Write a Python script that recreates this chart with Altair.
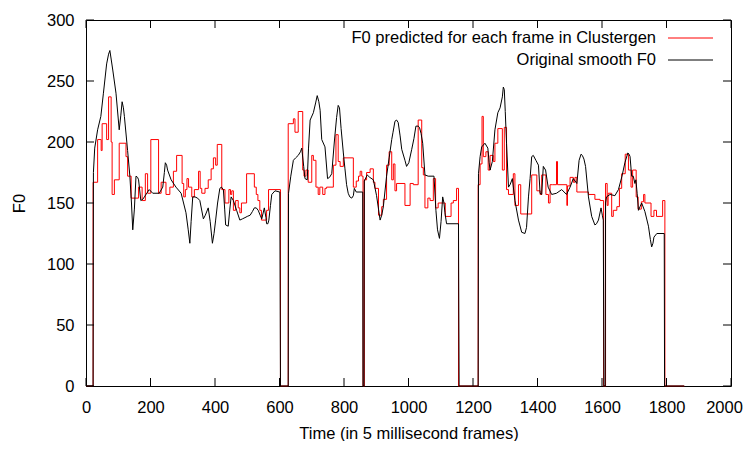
import altair as alt
import pandas as pd

# ---------------- data ----------------
black_frames = [0, 22, 23, 27, 36, 46, 54, 64, 70, 74, 78, 83, 93, 103, 108, 112, 116, 119, 129, 136, 141, 145, 150,
                155, 160, 163, 170, 176, 181, 196, 207, 227, 238, 243, 246, 250, 253, 264, 279, 295, 310, 317, 322,
                326, 331, 338, 346, 353, 364, 370, 379, 385, 392, 397, 402, 408, 415, 420, 426, 430, 433, 441, 446,
                450, 457, 467, 477, 485, 493, 500, 509, 516, 522, 528, 534, 540, 545, 553, 558, 560, 564, 567, 572,
                576, 586, 601, 603,
                627, 628, 635, 643, 650, 658, 665, 669, 675, 679, 686, 690, 695, 705, 712, 717, 722, 726, 731, 741,
                749, 755, 762, 770, 777, 782, 786, 791, 798, 803, 808, 813, 818, 824, 829, 832, 838, 858, 859,
                862, 863, 872, 880, 891, 901, 907, 912, 917, 922, 932, 940, 948, 952, 958, 963, 968, 974, 979, 989,
                994, 1001, 1010, 1017, 1023, 1030, 1034, 1039, 1044, 1051, 1061, 1079, 1085, 1090, 1096, 1101, 1106,
                1110, 1113, 1118, 1155, 1157,
                1216, 1217, 1222, 1227, 1237, 1246, 1250, 1253, 1260, 1268, 1277, 1284, 1291, 1294, 1297, 1300, 1304,
                1310, 1315, 1322, 1330, 1341, 1351, 1361, 1366, 1372, 1377, 1382, 1387, 1395, 1403, 1408, 1413, 1418,
                1425, 1433, 1444, 1459, 1475, 1490, 1501, 1511, 1522, 1529, 1535, 1539, 1544, 1549, 1558, 1568, 1578,
                1583, 1589, 1597, 1601, 1604, 1606,
                1610, 1611, 1614, 1625, 1640, 1651, 1662, 1671, 1680, 1684, 1687, 1692, 1697, 1702, 1705, 1709, 1713,
                1718, 1723, 1733, 1744, 1750, 1754, 1758, 1761, 1770, 1793, 1794, 1855]
black_values = [0, 0, 175, 195, 210, 221, 240, 264, 272, 275, 268, 259, 240, 210, 222, 233, 228, 221, 193, 172, 150, 128, 145,
                172, 171, 169, 152, 153, 155, 161, 158, 158, 163, 175, 183, 181, 177, 169, 163, 158, 142, 128, 117,
                135, 155, 155, 154, 152, 137, 140, 146, 135, 117, 125, 136, 150, 162, 163, 161, 145, 132, 131, 145,
                155, 152, 144, 136, 137, 138, 139, 140, 143, 146, 146, 144, 140, 137, 146, 138, 133, 133, 136, 148,
                157, 160, 159, 0,
                0, 158, 172, 185, 187, 189, 192, 195, 180, 170, 169, 195, 218, 224, 232, 238, 233, 226, 202, 196,
                170, 171, 174, 200, 220, 230, 228, 211, 191, 178, 165, 158, 155, 154, 156, 162, 159, 159, 0,
                0, 168, 173, 171, 169, 156, 145, 136, 140, 147, 172, 187, 202, 208, 217, 218, 216, 205, 194, 185,
                180, 183, 194, 203, 213, 213, 212, 207, 199, 173, 172, 172, 144, 128, 121, 135, 155,
                150, 142, 133, 133, 0,
                0, 174, 188, 196, 199, 195, 183, 177, 184, 210, 224, 228, 237, 245, 243, 225, 199,
                163, 165, 170, 152, 136, 126, 125, 130, 155, 170, 188, 189, 185, 181, 158, 157, 180,
                177, 163, 157, 158, 161, 157, 163, 170, 166, 185, 190, 189, 186, 180, 155, 139, 132,
                133, 136, 146, 140, 136, 0,
                0, 150, 155, 157, 156, 161, 172, 183, 191, 190, 188, 172, 172, 166, 169, 158, 144,
                147, 150, 143, 131, 120, 114, 117, 122, 125, 125, 0, 0]

red_frames = [0, 22, 36, 47, 50, 64, 70, 78, 81, 88, 103, 124, 129, 140, 163, 174, 184, 191, 201, 225, 233, 248, 260,
              271, 281, 298, 303, 308, 313, 318, 328, 336, 349, 354, 359, 369, 379, 388, 395, 402, 407, 421, 431,
              443, 448, 452, 457, 464, 472, 477, 482, 498, 522, 528, 533, 539, 544, 560, 566, 603,
              627, 643, 648, 658, 672, 676, 682, 689, 700, 705, 713, 720, 725, 734, 741, 746, 767, 775, 782, 788,
              798, 829, 838, 845, 850, 855, 859,
              863, 870, 881, 891, 896, 907, 917, 922, 932, 940, 948, 953, 958, 963, 989, 1005, 1015, 1030, 1041,
              1046, 1051, 1060, 1067, 1077, 1084, 1092, 1114, 1132, 1139, 1149, 1155,
              1216, 1222, 1228, 1232, 1240, 1247, 1253, 1263, 1268, 1277, 1291, 1297, 1304, 1310, 1325, 1330, 1341,
              1348, 1382, 1398, 1408, 1413, 1426, 1434, 1439, 1447, 1459, 1462, 1491, 1493, 1501, 1511, 1516, 1522,
              1558, 1578, 1594, 1605,
              1611, 1616, 1619, 1630, 1635, 1646, 1654, 1661, 1672, 1682, 1690, 1695, 1706, 1712, 1722, 1729, 1733,
              1752, 1761, 1769, 1788, 1795, 1855]
red_values = [0, 167, 202, 193, 215, 202, 237, 200, 157, 169, 199, 188, 172, 154, 163, 152, 174, 158, 202, 158, 167, 157, 163,
              176, 189, 166, 155, 161, 170, 163, 155, 161, 176, 162, 158, 162, 169, 178, 187, 181, 198, 161, 150,
              161, 157, 160, 144, 152, 146, 142, 150, 174, 163, 157, 152, 144, 136, 144, 161, 0,
              215, 219, 208, 225, 177, 172, 177, 167, 189, 185, 163, 157, 163, 157, 162, 163, 181, 206, 184, 180,
              187, 163, 168, 172, 176, 172, 0,
              169, 175, 178, 167, 162, 140, 147, 153, 181, 192, 169, 182, 160, 166, 148, 166, 165, 218, 179,
              173, 146, 154, 152, 170, 146, 150, 139, 150, 152, 162, 0,
              165, 182, 221, 188, 192, 177, 189, 184, 199, 211, 177, 212, 161, 157, 174, 148, 165,
              141, 173, 160, 157, 173, 157, 150, 165, 165, 184, 165, 148, 164, 171, 167, 171, 159,
              157, 153, 152, 0,
              166, 148, 158, 139, 144, 147, 162, 174, 190, 177, 163, 177, 155, 145, 151, 157, 150,
              139, 144, 139, 152, 0, 0]

x_ticks = [0, 200, 400, 600, 800, 1000, 1200, 1400, 1600, 1800, 2000]
y_ticks = [0, 50, 100, 150, 200, 250, 300]
legend_labels = ["F0 predicted for each frame in Clustergen", "Original smooth F0"]
x_title = "Time (in 5 millisecond frames)"
y_title = "F0"

# ---------------- chart ----------------
FONT = "Liberation Sans"
FS = 16.5
W, H = 645, 366

red_df = pd.DataFrame({"frame": red_frames, "F0": red_values})
black_df = pd.DataFrame({"frame": black_frames, "F0": black_values})
xt_df = pd.DataFrame({"frame": x_ticks})
yt_df = pd.DataFrame({"F0": y_ticks})

x_enc = alt.X("frame:Q", scale=alt.Scale(domain=[0, 2000], nice=False, zero=False),
              axis=alt.Axis(values=x_ticks, title=x_title, ticks=False, domain=False, grid=False,
                            labelFlush=False, labelPadding=13, titlePadding=10, format="d",
                            labelOffset={"condition": {"test": "datum.value === 2000", "value": -7}, "value": 0}))
y_enc = alt.Y("F0:Q", scale=alt.Scale(domain=[0, 300], nice=False),
              axis=alt.Axis(values=y_ticks, title=y_title, ticks=False, domain=False, grid=False,
                            labelFlush=False, labelPadding=12, titlePadding=19, format="d"))

red_line = alt.Chart(red_df).mark_line(color="#ff0000", strokeWidth=1, interpolate="step-after").encode(
    x=x_enc, y=y_enc)
black_line = alt.Chart(black_df).mark_line(color="#000000", strokeWidth=1).encode(x=x_enc, y=y_enc)

xt_bottom = alt.Chart(xt_df).mark_rule(color="black", strokeWidth=1).encode(
    x=x_enc, y=alt.value(H), y2=alt.value(H - 8))
xt_top = alt.Chart(xt_df).mark_rule(color="black", strokeWidth=1).encode(
    x=x_enc, y=alt.value(0), y2=alt.value(8))
yt_left = alt.Chart(yt_df).mark_rule(color="black", strokeWidth=1).encode(
    y=y_enc, x=alt.value(0), x2=alt.value(8))
yt_right = alt.Chart(yt_df).mark_rule(color="black", strokeWidth=1).encode(
    y=y_enc, x=alt.value(W), x2=alt.value(W - 8))

legend_layers = []
for i, (lab, col) in enumerate(zip(legend_labels, ["#ff0000", "#000000"])):
    ldf = pd.DataFrame({"label": [lab]})
    ypix = 18 + 22 * i
    legend_layers.append(
        alt.Chart(ldf).mark_text(align="right", baseline="middle", font=FONT, fontSize=FS, color="black").encode(
            text="label:N", x=alt.value(570), y=alt.value(ypix)))
    legend_layers.append(
        alt.Chart(ldf).mark_rule(color=col, strokeWidth=1).encode(
            x=alt.value(582), x2=alt.value(627), y=alt.value(ypix)))

chart = alt.layer(red_line, black_line, xt_bottom, xt_top, yt_left, yt_right, *legend_layers).properties(
    width=W, height=H,
    autosize=alt.AutoSizeParams(type="none"),
    padding={"left": 78, "top": 12, "right": 12, "bottom": 55},
    background="white",
).configure_view(stroke="black", strokeWidth=1).configure_axis(
    labelFont=FONT, titleFont=FONT, labelFontSize=FS, titleFontSize=FS, titleFontWeight="normal",
    labelColor="black", titleColor="black")

chart.save("out.html", embed_options={"renderer": "svg", "actions": False})
